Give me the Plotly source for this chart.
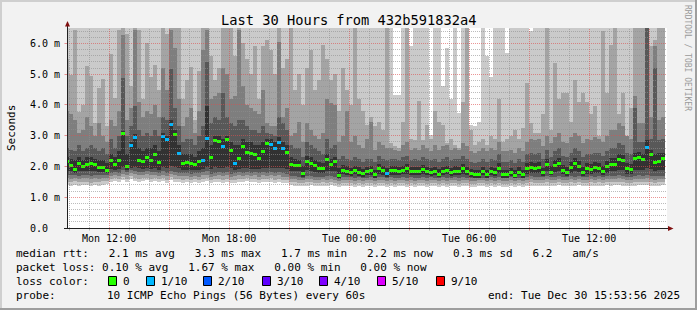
import plotly.graph_objects as go
from datetime import datetime, timedelta

# ---------------- data ----------------
BIN_START = datetime(2025, 12, 29, 9, 48)   # first 12-minute consolidation bin
BIN_MINUTES = 12
X_START = datetime(2025, 12, 29, 9, 53, 56)
X_END = datetime(2025, 12, 30, 15, 53, 56)
Y_MAX = 6.5

median_ms = [
    2.16, 2.02, 1.90, 2.10, 2.00, 2.07, 2.10, 2.05, 1.97, 1.97,
    1.88, 2.18, 2.07, 2.18, 3.08, 2.00, 2.67, 2.94, 2.20, 2.15,
    2.30, 2.18, 2.39, 2.14, 2.97, 2.87, 3.38, 3.03, 2.43, 2.10,
    2.13, 2.10, 2.06, 2.16, 2.20, 2.90, 2.30, 2.86, 2.82, 2.64,
    2.88, 2.51, 2.10, 2.25, 2.66, 2.46, 2.42, 2.39, 2.25, 2.50,
    2.74, 2.73, 2.60, 2.79, 2.60, 2.46, 2.06, 2.03, 2.03, 1.76,
    2.16, 2.11, 2.02, 1.95, 1.92, 2.24, 2.07, 2.15, 1.70, 1.88,
    1.84, 1.79, 1.87, 1.81, 1.76, 1.83, 1.86, 1.73, 1.93, 1.86,
    1.77, 1.86, 1.86, 1.84, 1.87, 1.93, 1.83, 1.84, 1.83, 1.89,
    1.84, 1.80, 1.84, 1.75, 1.84, 1.88, 1.79, 1.85, 1.84, 1.92,
    1.84, 1.76, 1.73, 1.73, 1.84, 1.73, 1.84, 1.79, 1.95, 1.73,
    1.73, 1.79, 1.71, 1.82, 1.73, 1.93, 1.97, 1.95, 1.98, 1.79,
    2.08, 1.82, 2.03, 2.10, 1.86, 1.79, 1.98, 2.10, 2.01, 1.80,
    1.93, 1.90, 1.97, 1.95, 1.84, 1.99, 2.08, 2.08, 2.22, 2.19,
    1.93, 1.90, 2.25, 2.28, 2.24, 2.61, 2.38, 2.14, 2.17, 2.25,
]

loss_tenths = [
    0, 0, 0, 0, 0, 0, 0, 0, 0, 0,
    0, 0, 0, 0, 0, 0, 1, 1, 0, 0,
    0, 0, 0, 0, 1, 1, 1, 0, 1, 0,
    0, 0, 0, 0, 1, 1, 0, 0, 0, 1,
    0, 0, 1, 0, 0, 0, 0, 0, 0, 0,
    0, 1, 1, 1, 1, 0, 0, 0, 0, 0,
    0, 0, 0, 0, 0, 0, 0, 0, 0, 0,
    0, 0, 0, 0, 0, 0, 0, 0, 0, 0,
    1, 0, 0, 0, 0, 0, 0, 0, 0, 0,
    0, 0, 0, 0, 0, 0, 0, 0, 0, 0,
    0, 0, 0, 0, 0, 0, 0, 0, 0, 0,
    0, 0, 0, 0, 0, 0, 0, 0, 0, 0,
    0, 0, 0, 0, 0, 0, 0, 0, 0, 0,
    0, 0, 0, 0, 0, 0, 0, 0, 0, 0,
    0, 0, 0, 0, 0, 1, 0, 0, 0, 0,
]

# sorted ping times per bin (ping1 = fastest ... ping10 = slowest), ms
ping1 = [
    1.40, 1.38, 1.41, 1.37, 1.40, 1.39, 1.36, 1.40, 1.38, 1.41,
    1.42, 1.50, 1.52, 1.48, 1.55, 1.50, 1.58, 1.53, 1.50, 1.52,
    1.55, 1.50, 1.54, 1.49, 1.52, 1.47, 1.55, 1.50, 1.48, 1.47,
    1.50, 1.45, 1.48, 1.46, 1.50, 1.52, 1.45, 1.48, 1.50, 1.47,
    1.50, 1.45, 1.47, 1.50, 1.48, 1.52, 1.48, 1.50, 1.46, 1.50,
    1.48, 1.51, 1.47, 1.50, 1.46, 1.45, 1.40, 1.38, 1.37, 1.35,
    1.38, 1.40, 1.37, 1.35, 1.38, 1.36, 1.39, 1.37, 1.34, 1.37,
    1.35, 1.37, 1.34, 1.36, 1.33, 1.35, 1.37, 1.34, 1.36, 1.35,
    1.33, 1.36, 1.34, 1.35, 1.37, 1.34, 1.36, 1.33, 1.35, 1.36,
    1.34, 1.36, 1.35, 1.33, 1.36, 1.34, 1.35, 1.37, 1.34, 1.36,
    1.35, 1.33, 1.34, 1.36, 1.35, 1.33, 1.36, 1.34, 1.35, 1.33,
    1.34, 1.36, 1.33, 1.35, 1.34, 1.37, 1.38, 1.36, 1.37, 1.35,
    1.38, 1.36, 1.37, 1.39, 1.35, 1.36, 1.38, 1.37, 1.39, 1.36,
    1.37, 1.38, 1.36, 1.38, 1.37, 1.39, 1.38, 1.40, 1.41, 1.38,
    1.37, 1.36, 1.38, 1.40, 1.39, 1.41, 1.38, 1.37, 1.38, 1.39,
]
ping2 = [
    1.50, 1.49, 1.52, 1.48, 1.50, 1.51, 1.47, 1.50, 1.49, 1.52,
    1.52, 1.60, 1.62, 1.58, 1.65, 1.60, 1.68, 1.63, 1.60, 1.62,
    1.64, 1.60, 1.63, 1.59, 1.62, 1.57, 1.65, 1.60, 1.58, 1.57,
    1.60, 1.55, 1.58, 1.56, 1.60, 1.62, 1.55, 1.58, 1.60, 1.57,
    1.60, 1.55, 1.57, 1.60, 1.58, 1.62, 1.58, 1.60, 1.56, 1.60,
    1.58, 1.61, 1.57, 1.60, 1.56, 1.55, 1.50, 1.48, 1.47, 1.45,
    1.48, 1.50, 1.47, 1.45, 1.48, 1.46, 1.49, 1.47, 1.44, 1.47,
    1.45, 1.47, 1.44, 1.46, 1.43, 1.45, 1.47, 1.44, 1.46, 1.45,
    1.43, 1.46, 1.44, 1.45, 1.47, 1.44, 1.46, 1.43, 1.45, 1.46,
    1.44, 1.46, 1.45, 1.43, 1.46, 1.44, 1.45, 1.47, 1.44, 1.46,
    1.45, 1.43, 1.44, 1.46, 1.45, 1.43, 1.46, 1.44, 1.45, 1.43,
    1.44, 1.46, 1.43, 1.45, 1.44, 1.47, 1.48, 1.46, 1.47, 1.45,
    1.48, 1.46, 1.47, 1.49, 1.45, 1.46, 1.48, 1.47, 1.49, 1.46,
    1.47, 1.48, 1.46, 1.48, 1.47, 1.49, 1.48, 1.50, 1.51, 1.48,
    1.47, 1.46, 1.48, 1.50, 1.49, 1.51, 1.48, 1.47, 1.48, 1.49,
]
ping3 = [
    1.61, 1.60, 1.62, 1.59, 1.61, 1.62, 1.58, 1.61, 1.60, 1.62,
    1.62, 1.70, 1.72, 1.69, 1.76, 1.71, 1.78, 1.74, 1.71, 1.72,
    1.74, 1.71, 1.73, 1.70, 1.73, 1.68, 1.75, 1.71, 1.69, 1.68,
    1.70, 1.66, 1.69, 1.67, 1.71, 1.73, 1.66, 1.69, 1.71, 1.68,
    1.71, 1.66, 1.68, 1.71, 1.69, 1.72, 1.69, 1.71, 1.67, 1.71,
    1.69, 1.72, 1.68, 1.71, 1.67, 1.66, 1.60, 1.58, 1.57, 1.55,
    1.58, 1.60, 1.57, 1.55, 1.58, 1.57, 1.59, 1.57, 1.54, 1.57,
    1.55, 1.57, 1.54, 1.56, 1.53, 1.55, 1.57, 1.54, 1.56, 1.55,
    1.53, 1.56, 1.54, 1.55, 1.57, 1.54, 1.56, 1.53, 1.55, 1.56,
    1.54, 1.56, 1.55, 1.53, 1.56, 1.54, 1.55, 1.57, 1.54, 1.56,
    1.55, 1.53, 1.54, 1.56, 1.55, 1.53, 1.56, 1.54, 1.55, 1.53,
    1.54, 1.56, 1.53, 1.55, 1.54, 1.57, 1.58, 1.56, 1.57, 1.55,
    1.58, 1.56, 1.57, 1.59, 1.55, 1.56, 1.58, 1.57, 1.59, 1.56,
    1.57, 1.58, 1.56, 1.58, 1.57, 1.59, 1.58, 1.60, 1.61, 1.58,
    1.57, 1.56, 1.58, 1.60, 1.59, 1.61, 1.58, 1.57, 1.58, 1.59,
]
ping4 = [
    1.72, 1.71, 1.72, 1.70, 1.72, 1.73, 1.69, 1.72, 1.71, 1.72,
    1.71, 1.80, 1.82, 1.80, 1.87, 1.81, 1.88, 1.85, 1.82, 1.82,
    1.84, 1.82, 1.83, 1.80, 1.84, 1.79, 1.86, 1.82, 1.80, 1.78,
    1.80, 1.77, 1.79, 1.78, 1.82, 1.84, 1.77, 1.80, 1.82, 1.79,
    1.82, 1.77, 1.79, 1.82, 1.80, 1.82, 1.80, 1.82, 1.78, 1.82,
    1.80, 1.83, 1.79, 1.82, 1.78, 1.77, 1.70, 1.68, 1.67, 1.63,
    1.68, 1.70, 1.67, 1.65, 1.67, 1.68, 1.69, 1.67, 1.58, 1.66,
    1.65, 1.65, 1.64, 1.65, 1.62, 1.64, 1.66, 1.62, 1.66, 1.65,
    1.62, 1.66, 1.64, 1.64, 1.66, 1.64, 1.65, 1.63, 1.64, 1.66,
    1.64, 1.65, 1.64, 1.62, 1.65, 1.64, 1.64, 1.66, 1.64, 1.66,
    1.64, 1.62, 1.62, 1.64, 1.64, 1.62, 1.65, 1.63, 1.65, 1.62,
    1.63, 1.65, 1.62, 1.64, 1.63, 1.67, 1.68, 1.66, 1.67, 1.65,
    1.68, 1.66, 1.67, 1.69, 1.65, 1.65, 1.68, 1.67, 1.69, 1.65,
    1.67, 1.68, 1.66, 1.68, 1.67, 1.69, 1.69, 1.70, 1.72, 1.69,
    1.67, 1.66, 1.69, 1.71, 1.70, 1.73, 1.70, 1.68, 1.69, 1.70,
]
ping5 = [
    1.86, 1.84, 1.80, 1.85, 1.84, 1.86, 1.85, 1.84, 1.82, 1.83,
    1.78, 1.92, 1.90, 1.93, 1.98, 1.88, 1.96, 1.97, 1.94, 1.92,
    1.95, 1.93, 1.96, 1.90, 1.98, 1.96, 2.00, 1.98, 1.95, 1.88,
    1.90, 1.88, 1.87, 1.90, 1.92, 1.97, 1.93, 1.97, 1.96, 1.95,
    1.97, 1.95, 1.88, 1.92, 1.95, 1.94, 1.93, 1.93, 1.91, 1.94,
    1.96, 1.96, 1.95, 1.96, 1.95, 1.93, 1.86, 1.84, 1.84, 1.66,
    1.88, 1.86, 1.83, 1.80, 1.78, 1.86, 1.84, 1.85, 1.62, 1.74,
    1.72, 1.69, 1.74, 1.70, 1.66, 1.71, 1.73, 1.64, 1.77, 1.73,
    1.67, 1.73, 1.73, 1.72, 1.74, 1.77, 1.72, 1.72, 1.72, 1.75,
    1.72, 1.69, 1.72, 1.66, 1.72, 1.74, 1.69, 1.72, 1.72, 1.76,
    1.72, 1.66, 1.64, 1.64, 1.72, 1.64, 1.72, 1.69, 1.78, 1.64,
    1.64, 1.69, 1.63, 1.71, 1.64, 1.77, 1.80, 1.78, 1.80, 1.69,
    1.84, 1.71, 1.82, 1.85, 1.74, 1.69, 1.80, 1.85, 1.82, 1.70,
    1.77, 1.75, 1.79, 1.78, 1.72, 1.80, 1.84, 1.84, 1.88, 1.87,
    1.77, 1.75, 1.88, 1.89, 1.88, 1.95, 1.91, 1.86, 1.87, 1.89,
]
ping6 = [
    2.30, 2.25, 2.20, 2.30, 2.20, 2.30, 2.30, 2.25, 2.20, 2.20,
    2.10, 2.40, 2.30, 2.50, 3.15, 2.40, 2.80, 3.05, 2.60, 2.50,
    2.60, 2.60, 2.70, 2.50, 3.10, 3.00, 3.50, 3.20, 2.70, 2.40,
    2.40, 2.40, 2.30, 2.50, 2.60, 3.95, 2.70, 3.00, 3.00, 2.90,
    3.00, 2.80, 2.70, 2.70, 2.90, 2.80, 2.80, 2.70, 2.70, 2.80,
    2.90, 2.90, 2.80, 2.95, 2.80, 2.70, 2.30, 2.25, 2.20, 2.00,
    2.35, 2.30, 2.20, 2.15, 2.10, 2.40, 2.25, 2.30, 1.95, 2.05,
    2.00, 1.95, 2.02, 1.98, 1.92, 1.98, 2.00, 1.90, 2.08, 2.00,
    1.95, 2.00, 2.00, 1.98, 2.02, 2.08, 1.98, 1.99, 1.98, 2.04,
    1.99, 1.95, 1.99, 1.92, 1.99, 2.03, 1.95, 2.00, 1.99, 2.07,
    1.99, 1.92, 1.89, 1.90, 1.99, 1.90, 1.99, 1.95, 2.10, 1.90,
    1.90, 1.95, 1.88, 1.98, 1.90, 2.10, 2.15, 2.12, 2.15, 1.96,
    2.25, 2.00, 2.20, 2.27, 2.05, 1.98, 2.15, 2.27, 2.18, 1.98,
    2.10, 2.08, 2.14, 2.12, 2.02, 2.17, 2.26, 2.27, 2.40, 2.37,
    2.12, 2.08, 2.43, 2.46, 2.42, 2.85, 2.55, 2.40, 2.45, 2.45,
]
ping7 = [
    2.60, 2.55, 2.50, 2.70, 2.50, 2.60, 2.70, 2.60, 2.50, 2.60,
    2.40, 2.90, 2.60, 3.00, 4.89, 3.00, 3.30, 3.98, 3.20, 3.00,
    3.10, 3.00, 3.20, 3.00, 3.60, 3.50, 5.17, 3.90, 3.30, 2.80,
    2.90, 2.90, 2.70, 3.00, 3.30, 5.40, 3.40, 3.60, 3.50, 4.40,
    3.60, 3.40, 3.30, 3.50, 3.50, 3.30, 3.20, 3.20, 3.10, 3.30,
    3.10, 3.05, 3.00, 3.60, 3.40, 3.20, 2.70, 2.60, 2.60, 2.30,
    2.80, 2.70, 2.60, 2.50, 2.40, 2.90, 2.60, 2.70, 2.25, 2.35,
    2.25, 2.20, 2.30, 2.25, 2.15, 2.25, 2.25, 2.15, 2.35, 2.25,
    2.20, 2.25, 2.25, 2.20, 2.30, 2.35, 2.20, 2.25, 2.20, 2.30,
    2.25, 2.20, 2.25, 2.15, 2.25, 2.30, 2.20, 2.25, 2.25, 2.35,
    2.25, 2.15, 2.12, 2.15, 2.25, 2.15, 2.25, 2.20, 2.40, 2.15,
    2.15, 2.20, 2.12, 2.25, 2.15, 2.40, 2.45, 2.40, 2.45, 2.25,
    2.55, 2.30, 2.50, 2.60, 2.35, 2.30, 2.45, 2.60, 2.50, 2.30,
    2.40, 2.40, 2.45, 2.45, 2.35, 2.50, 2.60, 2.60, 2.75, 2.70,
    2.45, 2.40, 3.90, 2.80, 2.80, 7.00, 2.90, 5.20, 2.85, 2.90,
]
ping8 = [
    3.80, 3.70, 3.50, 3.10, 3.20, 3.60, 3.30, 3.00, 3.40, 3.00,
    2.80, 3.50, 3.30, 3.80, 6.27, 3.50, 3.90, 6.45, 4.10, 3.60,
    3.80, 3.70, 4.00, 3.60, 5.20, 4.50, 6.45, 5.85, 4.20, 3.30,
    3.60, 3.90, 3.10, 3.80, 5.80, 6.45, 4.20, 4.30, 4.40, 5.20,
    5.00, 4.20, 4.30, 6.45, 4.60, 4.00, 3.90, 3.80, 3.70, 4.50,
    3.40, 3.30, 3.30, 6.05, 3.60, 3.90, 3.00, 3.10, 3.46, 2.80,
    3.40, 3.20, 3.00, 2.90, 3.10, 4.20, 4.05, 4.00, 2.80, 3.00,
    3.80, 2.80, 3.00, 2.70, 2.60, 2.90, 3.46, 2.55, 2.80, 2.70,
    2.60, 2.60, 2.55, 2.50, 2.70, 2.80, 2.55, 2.60, 2.55, 2.70,
    2.60, 2.50, 2.70, 2.55, 2.65, 2.70, 2.55, 2.60, 2.55, 2.75,
    2.65, 2.50, 2.45, 2.50, 2.60, 2.50, 2.60, 2.55, 2.80, 2.50,
    2.50, 2.55, 2.45, 2.60, 2.50, 2.80, 2.90, 2.85, 2.90, 2.65,
    3.00, 2.75, 2.95, 3.10, 2.80, 2.75, 2.95, 3.10, 3.00, 2.75,
    2.90, 2.85, 2.95, 2.90, 2.80, 3.00, 3.20, 3.20, 3.40, 3.30,
    3.00, 2.90, 4.30, 3.40, 3.40, 7.00, 3.60, 5.90, 3.50, 3.60,
]
ping9 = [
    5.50, 4.97, 6.44, 3.78, 4.00, 5.28, 4.94, 3.40, 4.55, 4.85,
    3.30, 5.65, 4.24, 6.45, 7.00, 6.30, 4.60, 7.00, 6.45, 4.20,
    6.00, 4.90, 5.30, 4.50, 7.00, 6.30, 7.00, 7.00, 7.00, 4.18,
    4.80, 5.24, 3.50, 5.10, 7.00, 7.00, 5.60, 4.80, 5.20, 7.00,
    7.00, 7.00, 5.60, 7.00, 6.00, 5.50, 5.00, 5.90, 4.20, 5.90,
    6.10, 5.80, 5.00, 7.00, 5.20, 5.50, 7.00, 4.50, 5.00, 4.00,
    5.20, 5.80, 4.50, 4.80, 5.95, 5.50, 4.80, 5.00, 3.80, 5.20,
    4.50, 4.00, 6.50, 4.20, 3.80, 3.35, 3.60, 3.30, 3.46, 3.20,
    7.00, 2.76, 2.65, 2.60, 3.46, 7.00, 2.90, 2.85, 4.13, 2.85,
    3.35, 2.90, 3.80, 3.46, 3.35, 2.76, 2.90, 2.70, 2.60, 4.10,
    7.00, 3.20, 2.70, 2.80, 2.90, 2.70, 3.00, 2.90, 4.20, 2.80,
    2.90, 3.00, 3.20, 2.90, 3.25, 4.70, 3.40, 3.10, 3.10, 3.70,
    7.00, 3.20, 5.35, 4.20, 4.40, 4.40, 3.46, 4.80, 4.10, 4.40,
    4.10, 3.70, 3.95, 3.00, 6.40, 4.40, 5.95, 7.00, 3.70, 4.40,
    3.00, 3.90, 7.00, 7.00, 7.00, 7.00, 5.90, 6.10, 7.00, 7.00,
]
ping10 = [
    7.00, 7.00, 7.00, 7.00, 7.00, 7.00, 7.00, 7.00, 7.00, 7.00,
    7.00, 7.00, 7.00, 7.00, 7.00, 7.00, 7.00, 7.00, 7.00, 7.00,
    7.00, 7.00, 7.00, 7.00, 7.00, 7.00, 7.00, 7.00, 7.00, 7.00,
    7.00, 7.00, 7.00, 7.00, 7.00, 7.00, 7.00, 7.00, 7.00, 7.00,
    7.00, 7.00, 7.00, 7.00, 7.00, 7.00, 7.00, 7.00, 7.00, 7.00,
    7.00, 7.00, 7.00, 7.00, 7.00, 7.00, 7.00, 7.00, 7.00, 7.00,
    7.00, 7.00, 7.00, 7.00, 7.00, 7.00, 7.00, 7.00, 7.00, 7.00,
    7.00, 7.00, 7.00, 7.00, 7.00, 7.00, 7.00, 7.00, 7.00, 7.00,
    7.00, 7.00, 4.33, 4.33, 7.00, 7.00, 5.90, 7.00, 7.00, 7.00,
    7.00, 3.03, 7.00, 7.00, 4.60, 5.85, 4.20, 7.00, 3.73, 7.00,
    7.00, 3.35, 3.30, 3.46, 7.00, 5.60, 4.90, 7.00, 7.00, 7.00,
    5.70, 7.00, 7.00, 7.00, 7.00, 7.00, 6.40, 7.00, 7.00, 7.00,
    7.00, 7.00, 7.00, 7.00, 7.00, 7.00, 7.00, 7.00, 7.00, 7.00,
    7.00, 7.00, 7.00, 7.00, 7.00, 7.00, 7.00, 7.00, 7.00, 7.00,
    7.00, 7.00, 7.00, 7.00, 7.00, 7.00, 7.00, 7.00, 7.00, 7.00,
]

y_tick_values = [0, 1, 2, 3, 4, 5, 6]
y_tick_labels = ["0.0", "1.0 m", "2.0 m", "3.0 m", "4.0 m", "5.0 m", "6.0 m"]
x_tick_times = ["2025-12-29 12:00", "2025-12-29 18:00", "2025-12-30 00:00",
                "2025-12-30 06:00", "2025-12-30 12:00"]
x_tick_labels = ["Mon 12:00", "Mon 18:00", "Tue 00:00", "Tue 06:00", "Tue 12:00"]

title_text = "Last 30 Hours from 432b591832a4"
legend_line1 = "median rtt:   2.1 ms avg   3.3 ms max   1.7 ms min   2.2 ms now   0.3 ms sd   6.2   am/s"
legend_line2 = "packet loss: 0.10 % avg   1.67 % max   0.00 % min   0.00 % now"
loss_labels = ["0", "1/10", "2/10", "3/10", "4/10", "5/10", "9/10"]
loss_colors = ["#26ff00", "#00b8ff", "#0059ff", "#5e00ff", "#7e00ff", "#dd00ff", "#ff0000"]
probe_text = "10 ICMP Echo Pings (56 Bytes) every 60s"
end_text = "end: Tue Dec 30 15:53:56 2025"

# ---------------- style / geometry ----------------
W, H = 697, 310
L, T, PW, PH = 67, 28, 600, 200
FONT = "DejaVu Sans Mono"
SMOKE = ["#cacaca", "#a4a4a4", "#7e7e7e", "#585858", "#323232"]
GRID = "rgba(143,143,143,0.6)"
MGRID = "rgba(222,79,79,0.6)"
AXIS = "#202020"
ARROW = "#801010"


def px(x):
    return (x - L) / PW


def py(y):
    return (T + PH - y) / PH


def nb(s):
    return s.replace(" ", "\u00a0")


def ypix(v):          # pixel row (snapped to pixel centre) of a data value
    return round(T + PH - v * PH / Y_MAX - 0.5) + 0.5


def xpix(t):          # pixel column (snapped) of a time
    return round(L + (t - X_START).total_seconds() / 3600 * PW / 30 - 0.5) + 0.5


n = len(median_ms)
xc = [BIN_START + timedelta(minutes=BIN_MINUTES * i + BIN_MINUTES / 2) for i in range(n)]
bar_w = BIN_MINUTES * 60 * 1000

fig = go.Figure()
pings = [ping1, ping2, ping3, ping4, ping5, ping6, ping7, ping8, ping9, ping10]
for k in range(5):
    lo, hi = pings[k], pings[9 - k]
    fig.add_trace(go.Bar(
        x=xc, base=lo, y=[h - l for h, l in zip(hi, lo)], width=bar_w,
        marker=dict(color=SMOKE[k], line=dict(width=0)), hoverinfo="skip",
        showlegend=False))

med_h = 3 * Y_MAX / PH
for lvl, col in zip([0, 1, 2, 3, 4, 5, 9], loss_colors):
    idx = [i for i in range(n) if loss_tenths[i] == lvl]
    if not idx:
        continue
    fig.add_trace(go.Bar(
        x=[xc[i] for i in idx], base=[median_ms[i] - med_h / 2 for i in idx],
        y=[med_h] * len(idx), width=bar_w,
        marker=dict(color=col, line=dict(width=0)), hoverinfo="skip",
        showlegend=False))

shapes = []
# horizontal grid (above data, as rrdtool draws it)
for j in range(1, int(Y_MAX / 0.2) + 1):
    v = round(j * 0.2, 1)
    if v > Y_MAX:
        break
    major = abs(v - round(v)) < 1e-6
    yy = py(ypix(v))
    shapes.append(dict(type="line", xref="paper", yref="paper", x0=0, x1=1, y0=yy, y1=yy,
                       line=dict(color=MGRID if major else GRID, width=1, dash="1px,1px"),
                       layer="above"))
# vertical grid every hour, major every 3 h
t = datetime(2025, 12, 29, 10, 0)
while t < X_END:
    major = t.hour % 3 == 0
    xx = px(xpix(t))
    shapes.append(dict(type="line", xref="paper", yref="paper", x0=xx, x1=xx, y0=0, y1=1,
                       line=dict(color=MGRID if major else GRID, width=1, dash="1px,1px"),
                       layer="above"))
    shapes.append(dict(type="line", xref="paper", yref="paper", x0=xx, x1=xx, y0=0, y1=py(230.5),
                       line=dict(color=MGRID if major else GRID, width=1), layer="above"))
    t += timedelta(hours=1)
for v in y_tick_values:
    yy = py(ypix(v))
    shapes.append(dict(type="line", xref="paper", yref="paper", x0=px(64.5), x1=px(67.5), y0=yy, y1=yy,
                       line=dict(color=MGRID, width=1), layer="above"))
# axes with arrows
shapes.append(dict(type="line", xref="paper", yref="paper", x0=px(67.5), x1=px(67.5), y0=py(228.5), y1=py(24),
                   line=dict(color=AXIS, width=1), layer="above"))
shapes.append(dict(type="line", xref="paper", yref="paper", x0=px(64), x1=px(670), y0=py(228.5), y1=py(228.5),
                   line=dict(color=AXIS, width=1), layer="above"))
shapes.append(dict(type="path", xref="paper", yref="paper",
                   path=f"M {px(65)} {py(26.5)} L {px(70)} {py(26.5)} L {px(67.5)} {py(21)} Z",
                   fillcolor=ARROW, line=dict(width=0), layer="above"))
shapes.append(dict(type="path", xref="paper", yref="paper",
                   path=f"M {px(668)} {py(226)} L {px(668)} {py(231)} L {px(673.5)} {py(228.5)} Z",
                   fillcolor=ARROW, line=dict(width=0), layer="above"))
# legend colour boxes
box_x = [108, 146, 203, 262, 319, 377, 436]
for bx, col in zip(box_x, loss_colors):
    shapes.append(dict(type="rect", xref="paper", yref="paper",
                       x0=px(bx + 0.5), x1=px(bx + 8.5), y0=py(285.5), y1=py(276.5),
                       fillcolor=col, line=dict(color="#000000", width=1), layer="above"))
# 3D frame of the canvas
shapes.append(dict(type="rect", xref="paper", yref="paper", x0=px(0), x1=px(W), y0=py(H), y1=py(H - 2),
                   fillcolor="#9e9e9e", line=dict(width=0), layer="above"))
shapes.append(dict(type="rect", xref="paper", yref="paper", x0=px(W - 2), x1=px(W), y0=py(H), y1=py(0),
                   fillcolor="#9e9e9e", line=dict(width=0), layer="above"))
shapes.append(dict(type="rect", xref="paper", yref="paper", x0=px(0), x1=px(W - 2), y0=py(2), y1=py(0),
                   fillcolor="#cfcfcf", line=dict(width=0), layer="above"))
shapes.append(dict(type="rect", xref="paper", yref="paper", x0=px(0), x1=px(2), y0=py(H - 2), y1=py(0),
                   fillcolor="#cfcfcf", line=dict(width=0), layer="above"))

ann = []


def text(x, y, s, size, xanchor="left", **kw):
    d = dict(xref="paper", yref="paper", x=px(x), y=py(y), text=nb(s), showarrow=False,
             xanchor=xanchor, yanchor="middle", borderpad=0, borderwidth=0,
             font=dict(family=FONT, size=size, color=kw.pop("color", "#000000")))
    d.update(kw)
    ann.append(d)


text(348, 19.5, title_text, 13.7, xanchor="center")
text(11, 128, "Seconds", 11, xanchor="center", textangle=-90)
text(688, 58, "RRDTOOL / TOBI OETIKER", 8, xanchor="center", textangle=90, color="#9a9a9a")
for v, lab in zip(y_tick_values, y_tick_labels):
    ann.append(dict(xref="paper", yref="y", x=px(30), y=v, text=nb(lab), showarrow=False,
                    xanchor="left", yanchor="middle", borderpad=0, borderwidth=0,
                    font=dict(family=FONT, size=10, color="#000000")))
for tx, lab in zip(x_tick_times, x_tick_labels):
    ann.append(dict(xref="x", yref="paper", x=tx, y=py(238.3), text=nb(lab), showarrow=False,
                    xanchor="center", yanchor="middle", borderpad=0, borderwidth=0,
                    font=dict(family=FONT, size=10, color="#000000")))
text(16, 254, legend_line1, 11)
text(16, 267.5, legend_line2, 11)
text(16, 281.5, "loss color:", 11)
for bx, lab in zip(box_x, loss_labels):
    text(bx + 15, 281.5, lab, 11)
text(16, 295.5, "probe:", 11)
text(107.3, 295.5, probe_text, 11)
text(680, 295.5, end_text, 11, xanchor="right")

fig.update_layout(
    width=W, height=H, autosize=False,
    margin=dict(l=L, r=W - L - PW, t=T, b=H - T - PH, pad=0),
    paper_bgcolor="#f2f2f2", plot_bgcolor="#ffffff",
    barmode="overlay", bargap=0, showlegend=False,
    xaxis=dict(type="date", range=[X_START, X_END], showgrid=False, zeroline=False,
               showline=False, showticklabels=False, ticks="", fixedrange=True),
    yaxis=dict(range=[0, Y_MAX], showgrid=False, zeroline=False, showline=False,
               showticklabels=False, ticks="", fixedrange=True),
    shapes=shapes, annotations=ann,
)
fig.write_html("out.html", config={"displayModeBar": False})
